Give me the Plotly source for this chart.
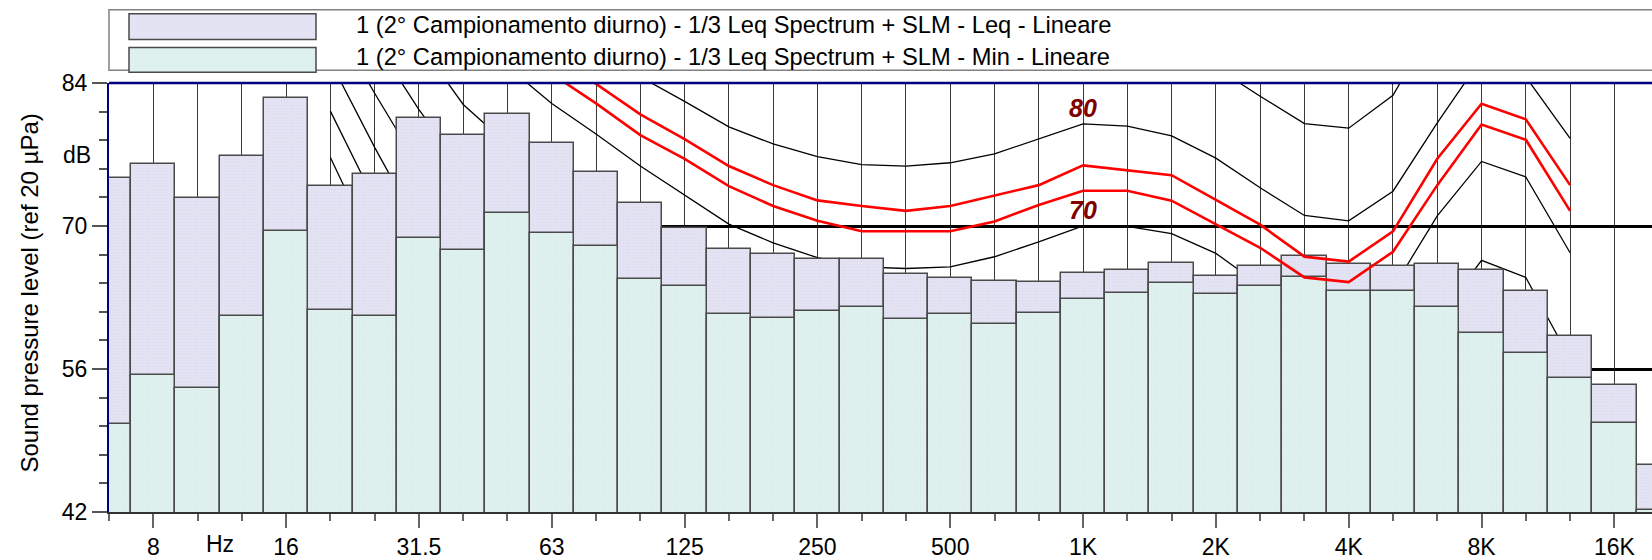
import plotly.graph_objects as go

# ---------------- data ----------------
bands = ["6.3", "8", "10", "12.5", "16", "20", "25", "31.5", "40", "50", "63", "80",
         "100", "125", "160", "200", "250", "315", "400", "500", "630", "800", "1K",
         "1.25K", "1.6K", "2K", "2.5K", "3.15K", "4K", "5K", "6.3K", "8K", "10K",
         "12.5K", "16K", "20K"]

leq = [74.74, 76.06, 72.74, 76.87, 82.51, 73.93, 75.10, 80.55, 78.93, 80.93, 78.16, 75.32,
       72.25, 69.80, 67.74, 67.22, 66.80, 66.80, 65.28, 64.90, 64.64, 64.55, 65.42,
       65.67, 66.42, 65.13, 66.10, 67.06, 66.25, 66.06, 66.25, 65.74, 63.61,
       59.25, 54.48, 46.64]

lmin = [50.58, 55.45, 54.13, 61.16, 69.50, 61.74, 61.20, 68.86, 67.64, 71.32, 69.27, 68.06,
        64.84, 64.09, 61.42, 60.96, 61.64, 62.06, 60.87, 61.42, 60.45, 61.51, 62.85,
        63.42, 64.45, 63.35, 64.12, 65.00, 63.64, 63.61, 62.09, 59.51, 57.54,
        55.10, 50.67, 42.15]

# equal-loudness contours, 20 Hz .. 12.5 kHz
contour_bands = bands[5:34]
phon10 = [76.7, 67.6, 59.5, 52.0, 45.5, 39.5, 34.5, 30.0, 26.5, 23.0, 20.5, 18.0, 16.0, 14.5,
          13.5, 12.8, 11.8, 10.0, 9.8, 9.0, 7.0, 4.0, 1.3, 0.8, 4.0, 11.0, 17.0, 15.0, 8.0]
phon20 = [81.25, 72.5, 64.5, 57.5, 51.0, 45.5, 41.0, 37.0, 34.0, 31.0, 28.5, 26.5, 25.0, 24.0,
          23.5, 23.0, 22.0, 20.0, 19.8, 19.0, 17.0, 14.0, 11.3, 10.8, 14.0, 21.0, 27.0, 25.0, 18.0]
phon30 = [86.1, 77.7, 69.8, 62.8, 56.5, 51.0, 46.5, 43.0, 39.0, 35.0, 32.0, 30.0, 28.3, 26.8,
          26.6, 27.3, 28.6, 30.0, 29.8, 29.0, 27.0, 24.0, 21.3, 20.8, 24.0, 31.0, 37.0, 35.0, 28.0]
phon40 = [90.5, 83.0, 75.8, 69.0, 63.0, 58.0, 54.0, 50.5, 47.0, 43.5, 41.0, 39.0, 37.5, 36.2,
          36.3, 37.2, 38.5, 40.0, 39.8, 39.0, 37.0, 34.0, 31.3, 30.8, 34.0, 41.0, 47.0, 45.0, 38.0]
phon50 = [95.0, 88.1, 81.4, 75.5, 70.2, 66.0, 62.5, 59.3, 55.5, 52.5, 50.2, 48.3, 46.8, 46.0,
          46.2, 47.1, 48.5, 50.0, 49.8, 49.1, 47.2, 44.1, 41.3, 40.8, 44.0, 51.0, 57.0, 55.0, 47.5]
phon60 = [100.0, 94.0, 88.0, 81.9, 78.0, 74.5, 71.0, 68.0, 65.2, 62.8, 60.8, 59.2, 58.0, 57.0,
          57.0, 57.6, 58.7, 60.0, 59.9, 59.2, 57.3, 54.2, 51.3, 50.8, 53.9, 60.8, 66.64, 64.96, 57.0]
phon70 = [106.0, 100.0, 94.5, 90.0, 85.6, 82.0, 79.0, 75.87, 73.03, 70.19, 68.35, 66.9, 66.0, 65.84,
          66.0, 66.99, 68.45, 70.0, 69.97, 69.25, 67.32, 64.2, 61.3, 60.8, 63.9, 71.0, 76.32, 74.8, 67.38]
phon80 = [112.0, 106.0, 100.5, 96.0, 92.0, 89.0, 86.5, 84.6, 82.2, 79.71, 78.03, 76.8, 76.0, 75.87,
          76.19, 77.06, 78.51, 80.0, 79.77, 78.83, 76.64, 73.74, 71.03, 70.51, 73.41, 80.1, 86.4, 84.6, 78.58]
phon90 = [118.0, 112.0, 106.5, 102.0, 98.0, 95.0, 93.0, 91.5, 90.0, 88.5, 87.5, 86.7, 86.0, 85.9,
          86.2, 87.0, 88.5, 90.0, 89.8, 88.8, 85.5, 82.71, 80.03, 79.58, 82.8, 90.3, 96.5, 95.0, 89.0]
contours = [phon10, phon20, phon30, phon40, phon50, phon60, phon70, phon80, phon90]

# red loudness contours, 63 Hz .. 12.5 kHz
red_bands = bands[10:34]
red_upper = [86.9, 83.9, 80.93, 78.51, 75.87, 74.0, 72.51, 71.96, 71.48, 71.96, 72.97, 74.0,
             75.93, 75.45, 74.97, 72.55, 70.13, 67.0, 66.51, 69.48, 76.58, 81.97, 80.45, 74.0]
red_lower = [84.9, 82.0, 78.9, 76.58, 73.9, 71.96, 70.51, 69.48, 69.48, 69.48, 70.45, 72.06,
             73.45, 73.45, 72.48, 70.2, 67.87, 64.97, 64.51, 67.48, 74.0, 79.94, 78.45, 71.48]

tick_labels = ["8", "16", "31.5", "63", "125", "250", "500", "1K", "2K", "4K", "8K", "16K"]
y_major = [42, 56, 70, 84]
y_minor = [44.8, 47.6, 50.4, 53.2, 58.8, 61.6, 64.4, 67.2, 72.8, 75.6, 78.4, 81.2]

names = ["1 (2° Campionamento diurno) - 1/3 Leq Spectrum + SLM - Leq - Lineare",
         "1 (2° Campionamento diurno) - 1/3 Leq Spectrum + SLM - Min - Lineare"]

# ---------------- figure ----------------
pos = {b: i for i, b in enumerate(bands)}
xb = [pos[b] for b in bands]
xc = [pos[b] for b in contour_bands]
xr = [pos[b] for b in red_bands]

FONT = "Liberation Sans, Arial, sans-serif"
C_LEQ = "#E3E3F3"
C_MIN = "#DFF1EE"
C_EDGE = "#4A4A4A"
XR = [0, 34.85]
YR = [42, 84]

fig = go.Figure()

# black contours on base subplot (below bars)
for c in contours:
    fig.add_trace(go.Scatter(x=xc, y=c, mode="lines", line=dict(color="black", width=1.3),
                             showlegend=False, hoverinfo="skip", xaxis="x", yaxis="y"))

# bars on overlay subplot 2
fig.add_trace(go.Bar(x=xb, y=leq, width=1, name=names[0],
                     marker=dict(color=C_LEQ, line=dict(color=C_EDGE, width=1.5),
                                 pattern=dict(shape=".", size=3, solidity=0.2,
                                              fgcolor="#D2D2EA", bgcolor=C_LEQ)),
                     xaxis="x2", yaxis="y2"))
fig.add_trace(go.Bar(x=xb, y=lmin, width=1, name=names[1],
                     marker=dict(color=C_MIN, line=dict(color=C_EDGE, width=1.5),
                                 pattern=dict(shape=".", size=3, solidity=0.2,
                                              fgcolor="#CDE6E2", bgcolor=C_MIN)),
                     xaxis="x2", yaxis="y2"))

# red curves on overlay subplot 3 (above bars)
for r in (red_upper, red_lower):
    fig.add_trace(go.Scatter(x=xr, y=r, mode="lines", line=dict(color="#FF0000", width=2.6),
                             showlegend=False, hoverinfo="skip", xaxis="x3", yaxis="y3"))

tickpos = [pos[t] for t in tick_labels]

fig.update_layout(
    width=1652, height=560,
    margin=dict(l=109, r=0, t=83, b=43),
    plot_bgcolor="white", paper_bgcolor="white",
    showlegend=False, barmode="overlay", bargap=0,
    font=dict(family=FONT, size=23, color="black"),
    xaxis=dict(range=XR, tickvals=tickpos, ticktext=tick_labels,
               ticks="outside", ticklen=14, tickwidth=1.5, tickcolor="#666",
               showgrid=True, gridcolor="#3a3a3a", gridwidth=1.2,
               minor=dict(dtick=1, tick0=0, ticks="outside", ticklen=7, tickwidth=1.5,
                          tickcolor="#666", showgrid=True, gridcolor="#3a3a3a", gridwidth=1.2),
               showline=True, linecolor="#333", linewidth=1.5, zeroline=False,
               tickfont=dict(size=23)),
    yaxis=dict(range=YR, tickvals=y_major, ticks="outside", ticklen=15, tickwidth=1.5,
               tickcolor="#555", showgrid=True, gridcolor="black", gridwidth=2.5,
               minor=dict(tickvals=y_minor, ticks="outside", ticklen=8, tickwidth=1.5,
                          tickcolor="#555", showgrid=False),
               showline=True, linecolor="#000080", linewidth=2, zeroline=False,
               tickfont=dict(size=23)),
    xaxis2=dict(overlaying="x", range=XR, visible=False),
    yaxis2=dict(overlaying="y", range=YR, visible=False),
    xaxis3=dict(overlaying="x", range=XR, visible=False),
    yaxis3=dict(overlaying="y", range=YR, visible=False),
)

# plot top frame (navy)
fig.add_shape(type="line", xref="paper", yref="paper", x0=0, x1=1, y0=1, y1=1,
              line=dict(color="#000080", width=2.5), layer="above")

# manual legend
W, H, L, T = 1652, 560, 109, 83
PW, PH = W - L, H - T - 43
def px(x):
    return (x - L) / PW
def py(y):
    return (H - 43 - y) / PH

fig.add_shape(type="rect", xref="paper", yref="paper", x0=px(109), x1=px(1660),
              y0=py(70), y1=py(9), line=dict(color="#808080", width=1.5),
              fillcolor="white", layer="above")
for k, (col, y0, y1, yc) in enumerate([(C_LEQ, 13, 39, 24), (C_MIN, 47, 72, 57)]):
    fig.add_shape(type="rect", xref="paper", yref="paper", x0=px(129), x1=px(316),
                  y0=py(y1), y1=py(y0), line=dict(color=C_EDGE, width=1.5),
                  fillcolor=col, layer="above")
    fig.add_annotation(xref="paper", yref="paper", x=px(354), y=py(yc), text=names[k],
                       showarrow=False, xanchor="left", yanchor="middle",
                       font=dict(size=23.7, family=FONT, color="black"))

# axis texts
fig.add_annotation(xref="paper", yref="paper", x=px(30), y=py(296),
                   xanchor="center", yanchor="middle",
                   text="Sound pressure level (ref 20 µPa)", textangle=-90,
                   showarrow=False, font=dict(size=24, family=FONT))
fig.add_annotation(xref="paper", yref="y", x=0, y=77, xanchor="right", xshift=-16,
                   text="dB", showarrow=False, font=dict(size=23, family=FONT))
fig.add_annotation(xref="x", yref="paper", x=2.5, y=0, yanchor="top", yshift=-17,
                   text="Hz", showarrow=False, font=dict(size=23, family=FONT))

# contour labels
for lab, yv in (("80", 81.6), ("70", 71.6)):
    fig.add_annotation(xref="x", yref="y", x=pos["1K"], y=yv, text="<b><i>" + lab + "</i></b>",
                       showarrow=False, font=dict(size=25, family=FONT, color="#800000"))

fig.write_html("out.html")
